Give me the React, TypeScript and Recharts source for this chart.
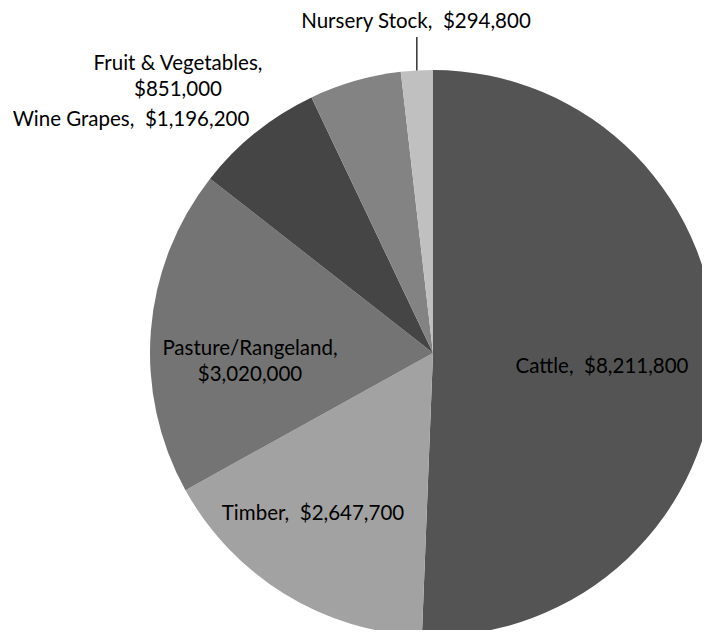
import React from "react";
import { PieChart, Pie, Cell } from "recharts";

const categories = ["Cattle", "Timber", "Pasture/Rangeland", "Wine Grapes", "Fruit & Vegetables", "Nursery Stock"];
const values = [8211800, 2647700, 3020000, 1196200, 851000, 294800];
const colors = ["#545454", "#a2a2a2", "#747474", "#454545", "#838383", "#c0c0c0"];

// label layout: offsets from pie centre, and line breaks
const labelOffsets: [number, number][] = [
  [169, 12],
  [-120, 159],
  [-183, 7],
  [-302, -235],
  [-255, -278],
  [-17, -333],
];
const labelSplit = [false, false, true, false, true, false];

const data = categories.map((name, i) => ({ name, value: values[i] }));

const fmt = (v: number) => "$" + v.toLocaleString("en-US");

const RAD = Math.PI / 180;

const renderLabel = (props: any) => {
  const { cx, cy, index, midAngle, outerRadius } = props;
  const [dx, dy] = labelOffsets[index];
  const x = cx + dx;
  const y = cy + dy;
  const name = categories[index];
  const val = fmt(values[index]);
  const style: React.CSSProperties = { whiteSpace: "pre" };
  const common = {
    fill: "#000",
    fontSize: 20.5,
    fontFamily: "Lato, 'Open Sans', sans-serif",
    textAnchor: "middle" as const,
    dominantBaseline: "central" as const,
    style,
  };
  if (labelSplit[index]) {
    return (
      <text key={"l" + index} x={x} y={y} {...common}>
        <tspan x={x} dy={-13}>{name + ","}</tspan>
        <tspan x={x} dy={26}>{val}</tspan>
      </text>
    );
  }
  let line = null;
  if (index === 5) {
    const px = cx + outerRadius * Math.cos(-midAngle * RAD);
    const py = cy + outerRadius * Math.sin(-midAngle * RAD);
    line = <line x1={px} y1={py} x2={px} y2={y + 17} stroke="#000" strokeWidth={1.2} />;
  }
  return (
    <g key={"l" + index}>
      {line}
      <text x={x} y={y} {...common}>{name + ",  " + val}</text>
    </g>
  );
};

export default function App() {
  return (
    <div style={{ margin: -8, width: 710, height: 638, overflow: "hidden" }}>
      <PieChart width={710} height={638} margin={{ top: 0, right: 0, bottom: 0, left: 0 }}>
        <Pie
          data={data}
          dataKey="value"
          nameKey="name"
          cx={433}
          cy={353}
          outerRadius={283}
          startAngle={90}
          endAngle={-270}
          stroke="none"
          label={renderLabel}
          labelLine={false}
          isAnimationActive={false}
        >
          {data.map((d, i) => (
            <Cell key={d.name} fill={colors[i]} />
          ))}
        </Pie>
      </PieChart>
    </div>
  );
}
